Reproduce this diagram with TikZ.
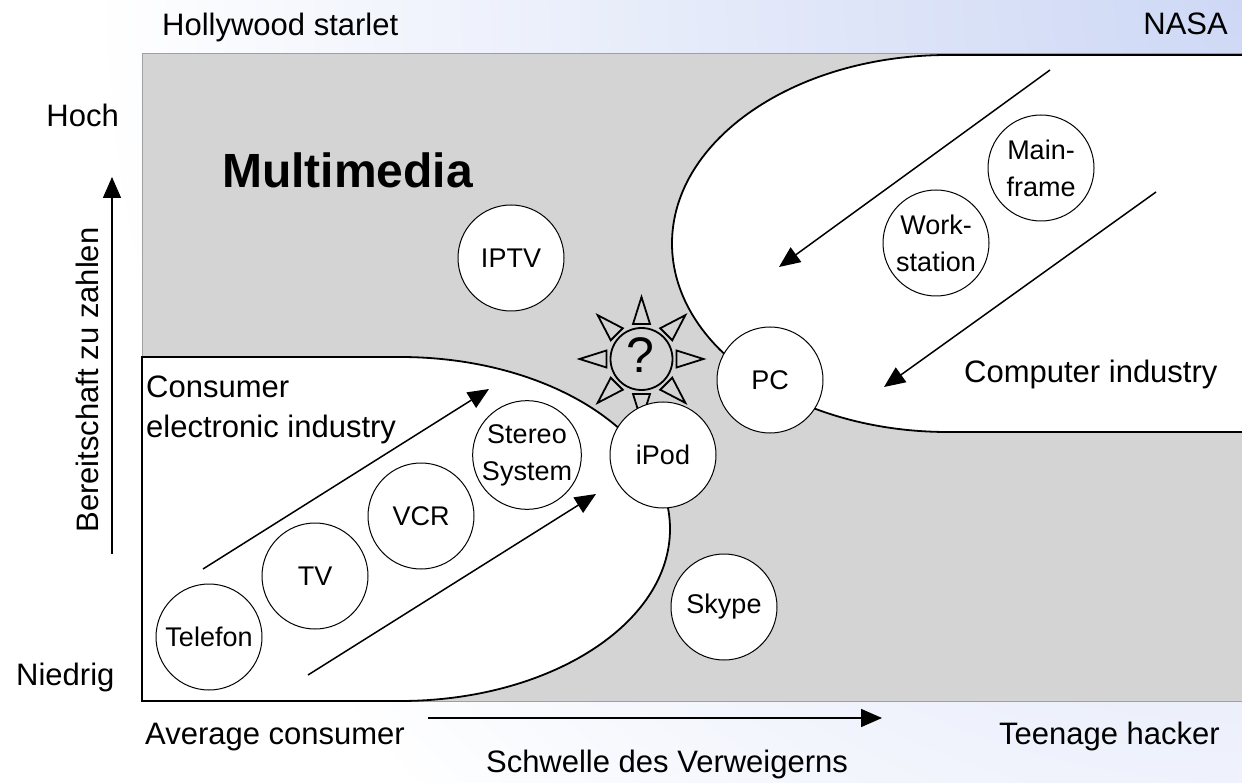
\documentclass[tikz,border=0pt]{standalone}
\usepackage{fontspec}
\setmainfont{Liberation Sans}
\usetikzlibrary{arrows.meta,shadings}
\definecolor{bgTR}{RGB}{206,216,245}
\definecolor{plane}{RGB}{212,212,212}
\definecolor{planeedge}{RGB}{160,160,160}
\begin{document}
\begin{tikzpicture}[x=1pt,y=-1pt,
  lbl/.style={font=\fontsize{31}{37}\selectfont, inner sep=0pt},
  circ/.style={circle, draw, line width=1pt, fill=white, minimum size=106pt, inner sep=0pt, align=center, font=\fontsize{27}{37}\selectfont},
  region/.style={fill=white, draw=black, line width=1.8pt},
  arr/.style={line width=1.5pt, -{Triangle[length=21pt,width=18pt]}},
  sunline/.style={line width=1.8pt}]
\useasboundingbox (0,0) rectangle (1242,783);
\begin{scope}
\clip (0,0) rectangle (1242,783);
\fill[white] (0,0) rectangle (1242,783);
\shade[inner color=bgTR, outer color=white] (1242,0) circle (1150);
\end{scope}
% plane
\path[fill=plane, draw=planeedge, line width=1pt] (142,54) rectangle (1262,701);
% regions
\path[region] (142,357) -- (400,357) arc[start angle=-90,end angle=90,x radius=270,y radius=172] -- (142,701) -- cycle;
\path[region] (1262,55) -- (948,55) arc[start angle=-90,end angle=-270,x radius=276,y radius=188.5] -- (1262,432) -- cycle;
% arrow coordinates
\coordinate (c1s) at (203,569); \coordinate (c1e) at (489,389);
\coordinate (c2s) at (308,675); \coordinate (c2e) at (596,494);
\coordinate (p1s) at (1050,70); \coordinate (p1e) at (779,267);
\coordinate (p2s) at (1156,192); \coordinate (p2e) at (884,387);
\coordinate (vys) at (112,554); \coordinate (vye) at (112,177);
\coordinate (hxs) at (428,718); \coordinate (hxe) at (882,718);
\draw[arr] (c1s) -- (c1e);
\draw[arr] (c2s) -- (c2e);
\draw[arr] (p1s) -- (p1e);
\draw[arr] (p2s) -- (p2e);
\draw[arr] (vys) -- (vye);
\draw[arr] (hxs) -- (hxe);
% sun with question mark
\node[circle, draw, line width=1.8pt, minimum size=62pt, inner sep=0pt] (q) at (641.5,359) {};
\node[font=\fontsize{50}{50}\selectfont, inner sep=0pt] (qm) at (640,355) {?};
\foreach \a in {0,45,...,315}{
  \draw[sunline, shift={(q.center)}, rotate=\a] (35,8.5) -- (62,0) -- (35,-8.5) -- cycle;
}
% circles
\node[circ] (telefon) at (209,637) {Telefon};
\node[circ] (tv) at (315,576) {TV};
\node[circ] (vcr) at (421,516) {VCR};
\node[circ] (stereo) at (527,455) {Stereo\\System};
\node[circ] (ipod) at (663,455) {iPod};
\node[circ] (iptv) at (511,258) {IPTV};
\node[circ] (skype) at (724,607) {Skype};
\node[circ] (pc) at (770,380) {PC};
\node[circ] (work) at (936,243) {Work-\\station};
\node[circ] (main) at (1041,168) {Main-\\frame};
% labels
\node[lbl, anchor=base west] (hs) at (162,36) {Hollywood starlet};
\node[lbl, anchor=base east] (nasa) at (1228,35) {NASA};
\node[lbl, anchor=base east] (hoch) at (119,127) {Hoch};
\node[lbl, anchor=base west] (nied) at (16,685) {Niedrig};
\node[lbl, anchor=base, rotate=90] (bz) at (98,380) {Bereitschaft zu zahlen};
\node[font=\bfseries\fontsize{48}{48}\selectfont, inner sep=0pt, anchor=base west] (mm) at (222,188) {Multimedia};
\node[lbl, anchor=base west] (ce1) at (146,398) {Consumer};
\node[lbl, anchor=base west] (ce2) at (146,437) {electronic industry};
\node[lbl, anchor=base west] (ci) at (964,383) {Computer industry};
\node[lbl, anchor=base west] (avg) at (145,744) {Average consumer};
\node[lbl, anchor=base east] (teen) at (1220,744) {Teenage hacker};
\node[lbl, anchor=base] (sv) at (667,772) {Schwelle des Verweigerns};
\end{tikzpicture}
\end{document}
